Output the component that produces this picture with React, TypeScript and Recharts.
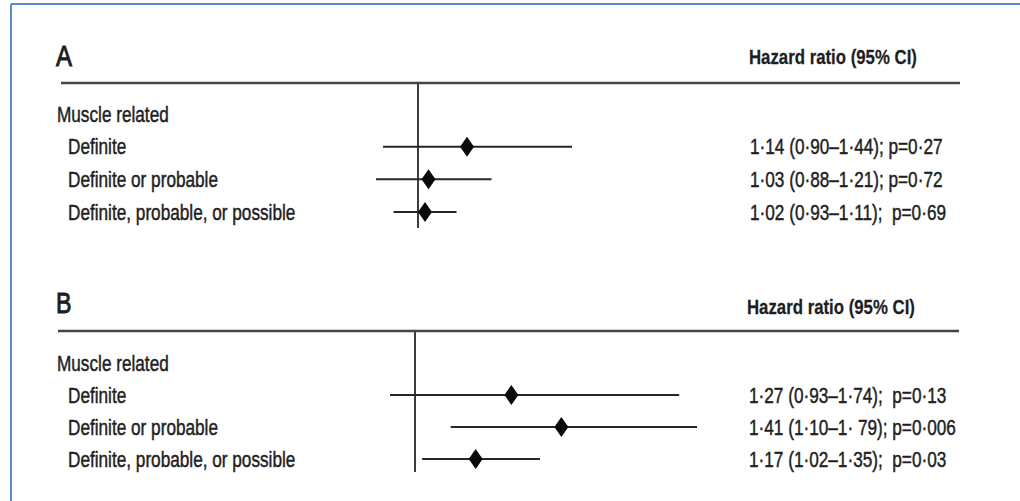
import React from "react";
import { ComposedChart, Scatter, XAxis, YAxis, ErrorBar, ReferenceLine } from "recharts";

// ---- data ----
const categories = [
  "Muscle related",
  "Definite",
  "Definite or probable",
  "Definite, probable, or possible",
];
const indented = [false, true, true, true];

const hrA = [null, 1.14, 1.03, 1.02];
const lowA = [null, 0.9, 0.88, 0.93];
const highA = [null, 1.44, 1.21, 1.11];
const textA = [
  "",
  "1·14 (0·90–1·44); p=0·27",
  "1·03 (0·88–1·21); p=0·72",
  "1·02 (0·93–1·11);  p=0·69",
];

const hrB = [null, 1.27, 1.41, 1.17];
const lowB = [null, 0.93, 1.1, 1.02];
const highB = [null, 1.74, 1.79, 1.35];
const textB = [
  "",
  "1·27 (0·93–1·74);  p=0·13",
  "1·41 (1·10–1· 79); p=0·006",
  "1·17 (1·02–1·35);  p=0·03",
];

const panelLetters = ["A", "B"];
const headerText = "Hazard ratio (95% CI)";
const referenceHR = 1;

// ---- style ----
const FONT = "'Liberation Sans', Arial, sans-serif";
const NARROW = 0.8;
const TEXT_COLOR = "#1e1e1e";
const LABEL_X = 57;
const INDENT = 11;

function buildRows(hr: (number | null)[], low: (number | null)[], high: (number | null)[], text: string[]) {
  return categories.map((label, i) => ({
    label,
    hr: hr[i],
    err: hr[i] == null ? null : [(hr[i] as number) - (low[i] as number), (high[i] as number) - (hr[i] as number)],
    text: text[i],
  }));
}

type NTProps = {
  x: number;
  y: number;
  size: number;
  bold?: boolean;
  weight?: number;
  dy?: string;
  children: React.ReactNode;
};
const NarrowText = ({ x, y, size, bold, weight, dy, children }: NTProps) => (
  <text
    transform={`translate(${x},${y}) scale(${NARROW},1)`}
    x={0}
    y={0}
    dy={dy}
    textAnchor="start"
    fontFamily={FONT}
    fontSize={size}
    fontWeight={bold ? "bold" : "normal"}
    fill={TEXT_COLOR}
    stroke={TEXT_COLOR}
    strokeWidth={weight != null ? weight : bold ? 0.25 : 0.45}
    style={{ whiteSpace: "pre" }}
  >
    {children}
  </text>
);

const Diamond = (props: any) => {
  const { cx, cy } = props;
  if (cx == null || cy == null || isNaN(cx) || isNaN(cy)) return null;
  const w = 7;
  const h = 10;
  return (
    <polygon
      points={`${cx},${cy - h} ${cx + w},${cy} ${cx},${cy + h} ${cx - w},${cy}`}
      fill="#0a0a0a"
    />
  );
};

type PanelProps = {
  top: number;
  rows: ReturnType<typeof buildRows>;
  domain: [number, number];
  leftW: number;
  rightW: number;
  plotBottom: number;
  padTop: number;
  padBottom: number;
  textX: number;
};

function Panel({ top, rows, domain, leftW, rightW, plotBottom, padTop, padBottom, textX }: PanelProps) {
  const chartH = 240;

  const LeftTick = (p: any) => {
    const idx = categories.indexOf(p.payload.value);
    const x = indented[idx] ? LABEL_X + INDENT : LABEL_X;
    return (
      <NarrowText x={x} y={p.y} dy="0.35em" size={21.5}>
        {p.payload.value}
      </NarrowText>
    );
  };
  const RightTick = (p: any) => {
    const row = rows.find((r) => r.label === p.payload.value);
    if (!row || !row.text) return <g />;
    return (
      <NarrowText x={textX} y={p.y} dy="0.35em" size={21.5}>
        {row.text}
      </NarrowText>
    );
  };

  return (
    <div style={{ position: "absolute", left: 0, top }}>
      <ComposedChart
        width={1020}
        height={chartH}
        data={rows}
        layout="vertical"
        margin={{ top: 83, right: 0, bottom: chartH - plotBottom, left: 0 }}
      >
        <XAxis type="number" dataKey="hr" domain={domain} hide allowDataOverflow />
        <YAxis
          yAxisId="left"
          type="category"
          dataKey="label"
          width={leftW}
          axisLine={false}
          tickLine={false}
          interval={0}
          padding={{ top: padTop, bottom: padBottom }}
          tick={LeftTick}
        />
        <YAxis
          yAxisId="right"
          orientation="right"
          type="category"
          dataKey="label"
          width={rightW}
          axisLine={false}
          tickLine={false}
          interval={0}
          padding={{ top: padTop, bottom: padBottom }}
          tick={RightTick}
        />
        <ReferenceLine yAxisId="left" x={referenceHR} stroke="#3c3c3c" strokeWidth={2} />
        <Scatter yAxisId="left" dataKey="hr" shape={Diamond} isAnimationActive={false}>
          <ErrorBar dataKey="err" direction="x" width={0} stroke="#262626" strokeWidth={2} isAnimationActive={false} />
        </Scatter>
      </ComposedChart>
    </div>
  );
}

export default function App() {
  const rowsA = buildRows(hrA, lowA, highA, textA);
  const rowsB = buildRows(hrB, lowB, highB, textB);
  const panelTops = [0, 248];
  return (
    <div style={{ position: "absolute", left: 0, top: 0, width: 1020, height: 501, background: "#fff", overflow: "hidden" }}>
      <Panel
        top={panelTops[0]}
        rows={rowsA}
        domain={[0.8, 1.8]}
        leftW={348}
        rightW={322}
        plotBottom={228}
        padTop={31}
        padBottom={16}
        textX={750}
      />
      <Panel
        top={panelTops[1]}
        rows={rowsB}
        domain={[0.8, 1.9]}
        leftW={343.6}
        rightW={283.7}
        plotBottom={224}
        padTop={32}
        padBottom={13}
        textX={749}
      />
      <svg
        width={1020}
        height={501}
        style={{ position: "absolute", left: 0, top: 0, pointerEvents: "none" }}
      >
        {/* frame */}
        <line x1={11} y1={4} x2={1020} y2={4} stroke="#5b8bd0" strokeWidth={2} />
        <line x1={11} y1={4} x2={11} y2={501} stroke="#5b8bd0" strokeWidth={2} />
        {/* panel A decorations */}
        <NarrowText x={56} y={66} size={30} weight={1}>{panelLetters[0]}</NarrowText>
        <NarrowText x={749} y={64} size={21} bold>{headerText}</NarrowText>
        <line x1={61} y1={83} x2={960} y2={83} stroke="#444" strokeWidth={2.5} />
        {/* panel B decorations */}
        <NarrowText x={56} y={313} size={29} weight={1}>{panelLetters[1]}</NarrowText>
        <NarrowText x={747} y={314} size={21} bold>{headerText}</NarrowText>
        <line x1={58} y1={331} x2={959} y2={331} stroke="#444" strokeWidth={2.5} />
      </svg>
    </div>
  );
}
